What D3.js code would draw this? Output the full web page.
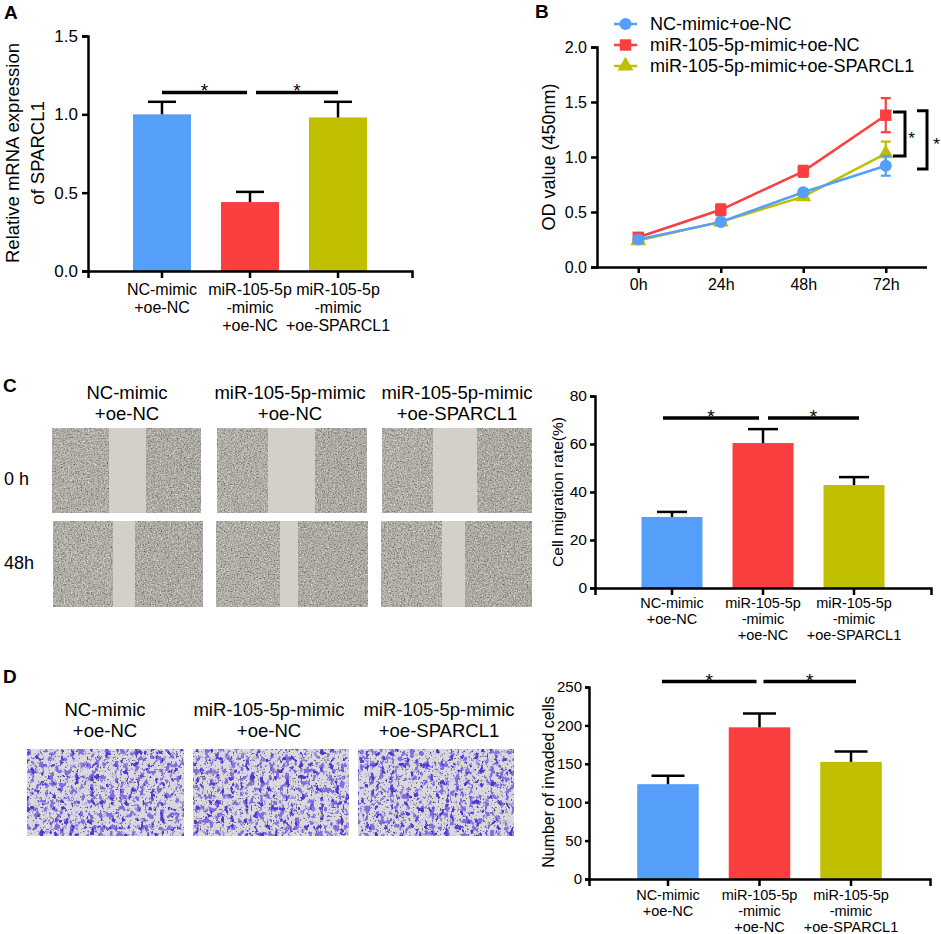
<!DOCTYPE html>
<html><head><meta charset="utf-8">
<script src="https://cdn.jsdelivr.net/npm/d3@7"></script>
<style>body{margin:0;background:#fff}svg{display:block;font-family:"Liberation Sans",Arial,sans-serif}</style>
</head><body><svg id="fig" width="941" height="934"></svg>
<script>
// ---------- data ----------
const groupLabels = [["NC-mimic","+oe-NC"],["miR-105-5p","-mimic","+oe-NC"],["miR-105-5p","-mimic","+oe-SPARCL1"]];
const imageTitles = [["NC-mimic","+oe-NC"],["miR-105-5p-mimic","+oe-NC"],["miR-105-5p-mimic","+oe-SPARCL1"]];
const legendLabels = ["NC-mimic+oe-NC","miR-105-5p-mimic+oe-NC","miR-105-5p-mimic+oe-SPARCL1"];
const groupColors = ["#559ffb","#fb3e40","#bfbf00"];

const mrnaMean = [1.00, 0.44, 0.98];
const mrnaErr  = [0.08, 0.065, 0.10];
const mrnaTicks = [0, 0.5, 1.0, 1.5];

const timepoints = ["0h","24h","48h","72h"];
const odNC    = [0.25, 0.41, 0.68, 0.92];
const odNCErr = [0.02, 0.02, 0.025, 0.09];
const odMiR    = [0.27, 0.52, 0.87, 1.38];
const odMiRErr = [0.02, 0.05, 0.05, 0.155];
const odSP    = [0.24, 0.41, 0.64, 1.03];
const odSPErr = [0.02, 0.02, 0.03, 0.11];
const odTicks = [0, 0.5, 1.0, 1.5, 2.0];

const migMean = [29.6, 60.4, 42.9];
const migErr  = [2.1, 5.8, 3.3];
const migTicks = [0, 20, 40, 60, 80];

const invMean = [123.5, 197.5, 152.5];
const invErr  = [11, 18, 13.5];
const invTicks = [0, 50, 100, 150, 200, 250];

const timeRows = ["0 h", "48h"];

// ---------- helpers ----------
const svg = d3.select("#fig");
const FONT = '"Liberation Sans", Arial, sans-serif';
const defs = svg.append("defs");

function styleAxis(g, fs) {
  g.attr("font-family", FONT).attr("font-size", fs);
  g.select(".domain").attr("stroke", "#000").attr("stroke-width", 2.5);
  g.selectAll(".tick line").attr("stroke", "#000").attr("stroke-width", 2.5);
  g.selectAll(".tick text").attr("fill", "#000");
}
function panelLetter(t, x, y) {
  svg.append("text").attr("x", x).attr("y", y).attr("font-size", 19).attr("font-weight", "bold")
    .attr("font-family", FONT).text(t);
}
function rotLabel(lines, xs, cy, fs) {
  lines.forEach((l, i) => {
    svg.append("text").attr("transform", `translate(${xs[i]},${cy}) rotate(-90)`)
      .attr("text-anchor", "middle").attr("font-size", fs).attr("font-family", FONT).text(l);
  });
}

function barChart(c) {
  const x = d3.scaleBand().domain(d3.range(c.means.length)).range([c.x0, c.x1])
    .paddingInner(c.inner).paddingOuter(c.outer);
  const y = d3.scaleLinear().domain([0, c.max]).range([c.yb, c.yt]);
  const g = svg.append("g");
  g.selectAll("rect.bar").data(c.means).join("rect")
    .attr("x", (d, i) => x(i)).attr("width", x.bandwidth())
    .attr("y", d => y(d)).attr("height", d => y(0) - y(d))
    .attr("fill", (d, i) => groupColors[i]);
  c.means.forEach((m, i) => {
    const cx = x(i) + x.bandwidth() / 2;
    g.append("line").attr("x1", cx).attr("x2", cx).attr("y1", y(m)).attr("y2", y(m + c.errs[i]))
      .attr("stroke", "#000").attr("stroke-width", 2.5);
    g.append("line").attr("x1", cx - c.cap / 2).attr("x2", cx + c.cap / 2)
      .attr("y1", y(m + c.errs[i])).attr("y2", y(m + c.errs[i]))
      .attr("stroke", "#000").attr("stroke-width", 2.5);
  });
  const ya = svg.append("g").attr("transform", `translate(${c.x0},0)`)
    .call(d3.axisLeft(y).tickValues(c.ticks).tickFormat(d3.format(c.fmt)).tickSizeOuter(0)
      .tickSize(c.tickLen).tickPadding(c.tickPad));
  styleAxis(ya, c.tickFont);
  const xa = svg.append("g").attr("transform", `translate(0,${c.yb})`)
    .call(d3.axisBottom(x).tickSizeOuter(0).tickSize(7).tickFormat(""));
  styleAxis(xa, c.tickFont);
  groupLabels.forEach((lines, i) => {
    const cx = x(i) + x.bandwidth() / 2;
    lines.forEach((l, j) => {
      svg.append("text").attr("x", cx).attr("y", c.labBase + j * c.labLH)
        .attr("text-anchor", "middle").attr("font-size", c.labFont).attr("font-family", FONT).text(l);
    });
  });
  const cen = i => x(i) + x.bandwidth() / 2;
  const sy = y(c.sig);
  c.sigSeg.forEach(s => {
    const xa1 = cen(s[0]) + s[1], xa2 = cen(s[2]) + s[3];
    svg.append("line").attr("x1", xa1).attr("x2", xa2).attr("y1", sy).attr("y2", sy)
      .attr("stroke", "#000").attr("stroke-width", 3.5);
    svg.append("text").attr("x", (xa1 + xa2) / 2).attr("y", sy + 5).attr("text-anchor", "middle")
      .attr("font-size", 19).attr("font-family", FONT).text("*");
  });
}

// ---------- Panel A ----------
panelLetter("A", 4, 19);
barChart({means: mrnaMean, errs: mrnaErr, max: 1.5, ticks: mrnaTicks, fmt: ".1f",
  x0: 88, x1: 412, yt: 36, yb: 271, inner: 0.341, outer: 0.511, cap: 28,
  tickFont: 17, tickLen: 6, tickPad: 4, labFont: 16, labBase: 295, labLH: 18,
  sig: 1.14, sigSeg: [[0, 0, 1, -3], [1, 6, 2, 0]]});
rotLabel(["Relative mRNA expression", "of SPARCL1"], [18.5, 43.5], 153, 18.5);

// ---------- Panel B ----------
panelLetter("B", 535, 18);
(function () {
  const x = d3.scalePoint().domain(timepoints).range([597, 927]).padding(0.5);
  const y = d3.scaleLinear().domain([0, 2]).range([267, 47]);
  const ya = svg.append("g").attr("transform", "translate(597,0)")
    .call(d3.axisLeft(y).tickValues(odTicks).tickFormat(d3.format(".1f")).tickSizeOuter(0).tickSize(6).tickPadding(4));
  styleAxis(ya, 16);
  const xa = svg.append("g").attr("transform", "translate(0,267)")
    .call(d3.axisBottom(x).tickSizeOuter(0).tickSize(6).tickPadding(6));
  xa.select(".domain").attr("d", "M597,0.5H927");
  styleAxis(xa, 16);
  const series = [
    {v: odSP, e: odSPErr, c: groupColors[2], sym: d3.symbolTriangle, size: 110},
    {v: odMiR, e: odMiRErr, c: groupColors[1], sym: d3.symbolSquare, size: 130},
    {v: odNC, e: odNCErr, c: groupColors[0], sym: d3.symbolCircle, size: 115}
  ];
  const line = d3.line().x((d, i) => x(timepoints[i])).y(d => y(d));
  series.forEach(s => {
    svg.append("path").attr("d", line(s.v)).attr("fill", "none").attr("stroke", s.c).attr("stroke-width", 2.5);
  });
  series.forEach(s => {
    s.v.forEach((v, i) => {
      const cx = x(timepoints[i]);
      const g = svg.append("g").attr("stroke", s.c).attr("stroke-width", 2.2);
      g.append("line").attr("x1", cx).attr("x2", cx).attr("y1", y(v - s.e[i])).attr("y2", y(v + s.e[i]));
      [v - s.e[i], v + s.e[i]].forEach(t => g.append("line").attr("x1", cx - 5).attr("x2", cx + 5).attr("y1", y(t)).attr("y2", y(t)));
      svg.append("path").attr("d", d3.symbol(s.sym, s.size)()).attr("transform", `translate(${cx},${y(v)})`).attr("fill", s.c);
    });
  });
  const legOrder = [
    {c: groupColors[0], sym: d3.symbolCircle, size: 115},
    {c: groupColors[1], sym: d3.symbolSquare, size: 130},
    {c: groupColors[2], sym: d3.symbolTriangle, size: 110}];
  legendLabels.forEach((l, i) => {
    const ly = 24 + i * 21;
    svg.append("line").attr("x1", 614).attr("x2", 637).attr("y1", ly).attr("y2", ly).attr("stroke", legOrder[i].c).attr("stroke-width", 2.5);
    svg.append("path").attr("d", d3.symbol(legOrder[i].sym, legOrder[i].size)()).attr("transform", `translate(625.5,${ly})`).attr("fill", legOrder[i].c);
    svg.append("text").attr("x", 650).attr("y", ly).attr("dy", "0.36em").attr("font-size", 18).attr("font-family", FONT).text(l);
  });
  const brk = (xv, yTop, yBot, arm, sx, syOff) => {
    svg.append("path").attr("d", `M${xv - arm},${yTop}H${xv}V${yBot}H${xv - arm}`)
      .attr("fill", "none").attr("stroke", "#000").attr("stroke-width", 3);
    svg.append("text").attr("x", sx).attr("y", (yTop + yBot) / 2 + syOff).attr("text-anchor", "middle")
      .attr("font-size", 17).attr("font-family", FONT).text("*");
  };
  brk(905, y(odMiR[3] + 0.03), y(odSP[3] - 0.02), 12, 911.5, 10);
  brk(927, y(odMiR[3] + 0.04), y(odNC[3] - 0.03), 10, 936.5, 10);
})();
rotLabel(["OD value (450nm)"], [554.5], 157, 18);

// ---------- image filters ----------
function woundFilter(id, seed) {
  const f = defs.append("filter").attr("id", id).attr("x", 0).attr("y", 0).attr("width", 1).attr("height", 1)
    .attr("color-interpolation-filters", "sRGB");
  f.append("feTurbulence").attr("type", "fractalNoise").attr("baseFrequency", 0.7).attr("numOctaves", 3).attr("seed", seed).attr("result", "t");
  f.append("feColorMatrix").attr("in", "t").attr("type", "matrix")
    .attr("values", "0 0 0 0 0.42  0 0 0 0 0.41  0 0 0 0 0.38  2.6 0 0 0 -1.25").attr("result", "dk");
  f.append("feColorMatrix").attr("in", "t").attr("type", "matrix")
    .attr("values", "0 0 0 0 0.88  0 0 0 0 0.87  0 0 0 0 0.84  0 -2.6 0 0 1.4").attr("result", "lt");
  const m = f.append("feMerge");
  m.append("feMergeNode").attr("in", "SourceGraphic");
  m.append("feMergeNode").attr("in", "lt");
  m.append("feMergeNode").attr("in", "dk");
}
function gapFilter(id, seed) {
  const f = defs.append("filter").attr("id", id).attr("x", 0).attr("y", 0).attr("width", 1).attr("height", 1)
    .attr("color-interpolation-filters", "sRGB");
  f.append("feTurbulence").attr("type", "fractalNoise").attr("baseFrequency", 0.6).attr("numOctaves", 1).attr("seed", seed).attr("result", "t");
  f.append("feColorMatrix").attr("in", "t").attr("type", "matrix")
    .attr("values", "0 0 0 0 0.6  0 0 0 0 0.59  0 0 0 0 0.55  4 0 0 0 -2.9").attr("result", "dk");
  const m = f.append("feMerge");
  m.append("feMergeNode").attr("in", "SourceGraphic");
  m.append("feMergeNode").attr("in", "dk");
}
function invasionFilter(id, seed) {
  const f = defs.append("filter").attr("id", id).attr("x", 0).attr("y", 0).attr("width", 1).attr("height", 1)
    .attr("color-interpolation-filters", "sRGB");
  f.append("feTurbulence").attr("type", "fractalNoise").attr("baseFrequency", "0.2 0.16").attr("numOctaves", 3).attr("seed", seed).attr("result", "t");
  f.append("feColorMatrix").attr("in", "t").attr("type", "matrix")
    .attr("values", "0 0 0 0 0.52  0 0 0 0 0.42  0 0 0 0 0.88  9 0 0 0 -4.9").attr("result", "p1");
  f.append("feColorMatrix").attr("in", "t").attr("type", "matrix")
    .attr("values", "0 0 0 0 0.32  0 0 0 0 0.22  0 0 0 0 0.82  0 11 0 0 -6.7").attr("result", "p2");
  f.append("feTurbulence").attr("type", "fractalNoise").attr("baseFrequency", 0.55).attr("numOctaves", 1).attr("seed", seed + 20).attr("result", "t2");
  f.append("feColorMatrix").attr("in", "t2").attr("type", "matrix")
    .attr("values", "0 0 0 0 0.40  0 0 0 0 0.39  0 0 0 0 0.44  0 0 12 0 -7.6").attr("result", "dots");
  const m = f.append("feMerge");
  m.append("feMergeNode").attr("in", "SourceGraphic");
  m.append("feMergeNode").attr("in", "dots");
  m.append("feMergeNode").attr("in", "p1");
  m.append("feMergeNode").attr("in", "p2");
}

// ---------- Panel C images ----------
panelLetter("C", 3, 392);
const woundLayout = [
  {y0: 428, y1: 513, cols: [[52, 201, 109, 146], [217, 367, 268, 315], [382, 532, 433, 477]]},
  {y0: 521, y1: 607, cols: [[53, 203, 113, 135], [216, 368, 280, 298], [381, 532, 442, 465]]}
];
const colCentersC = [127, 290, 457];
imageTitles.forEach((lines, i) => {
  lines.forEach((l, j) => {
    svg.append("text").attr("x", colCentersC[i]).attr("y", 398.5 + j * 21).attr("text-anchor", "middle")
      .attr("font-size", 18.5).attr("font-family", FONT).text(l);
  });
});
timeRows.forEach((t, r) => {
  svg.append("text").attr("x", 4).attr("y", [484.5, 568.5][r]).attr("font-size", 18).attr("font-family", FONT).text(t);
});
woundLayout.forEach((row, r) => {
  row.cols.forEach((c, i) => {
    const k = r * 3 + i;
    woundFilter("wf" + k, 11 + k * 7);
    gapFilter("gf" + k, 3 + k * 5);
    svg.append("rect").attr("x", c[0]).attr("y", row.y0).attr("width", c[1] - c[0]).attr("height", row.y1 - row.y0)
      .attr("fill", "#d2d0c9").attr("filter", `url(#gf${k})`);
    svg.append("rect").attr("x", c[0]).attr("y", row.y0).attr("width", c[2] - c[0]).attr("height", row.y1 - row.y0)
      .attr("fill", "#b2afa8").attr("filter", `url(#wf${k})`);
    svg.append("rect").attr("x", c[3]).attr("y", row.y0).attr("width", c[1] - c[3]).attr("height", row.y1 - row.y0)
      .attr("fill", "#aeaba4").attr("filter", `url(#wf${k})`);
  });
});

// ---------- Panel C chart ----------
barChart({means: migMean, errs: migErr, max: 80, ticks: migTicks, fmt: "d",
  x0: 595, x1: 931, yt: 396, yb: 588, inner: 0.33, outer: 0.511, cap: 30,
  tickFont: 15.5, tickLen: 5, tickPad: 3, labFont: 14.5, labBase: 608, labLH: 16,
  sig: 70.8, sigSeg: [[0, -9, 1, -4], [1, 5, 2, 5]]});
rotLabel(["Cell migration rate(%)"], [562.5], 492, 15.5);

// ---------- Panel D images ----------
panelLetter("D", 3, 683);
const invCols = [[27, 184], [193, 349], [358, 514]];
const colCentersD = [105, 269, 439];
imageTitles.forEach((lines, i) => {
  lines.forEach((l, j) => {
    svg.append("text").attr("x", colCentersD[i]).attr("y", 715.5 + j * 21).attr("text-anchor", "middle")
      .attr("font-size", 18.5).attr("font-family", FONT).text(l);
  });
});
invCols.forEach((c, i) => {
  invasionFilter("if" + i, 5 + i * 13);
  svg.append("rect").attr("x", c[0]).attr("y", 749).attr("width", c[1] - c[0]).attr("height", 87)
    .attr("fill", "#d8d8de").attr("filter", `url(#if${i})`);
});

// ---------- Panel D chart ----------
barChart({means: invMean, errs: invErr, max: 250, ticks: invTicks, fmt: "d",
  x0: 589, x1: 930, yt: 687, yb: 879, inner: 0.328, outer: 0.527, cap: 33,
  tickFont: 15, tickLen: 4, tickPad: 3, labFont: 14.5, labBase: 900, labLH: 16,
  sig: 257, sigSeg: [[0, -6, 1, -3], [1, 4, 2, 5]]});
rotLabel(["Number of invaded cells"], [554], 782, 16);
</script></body></html>
